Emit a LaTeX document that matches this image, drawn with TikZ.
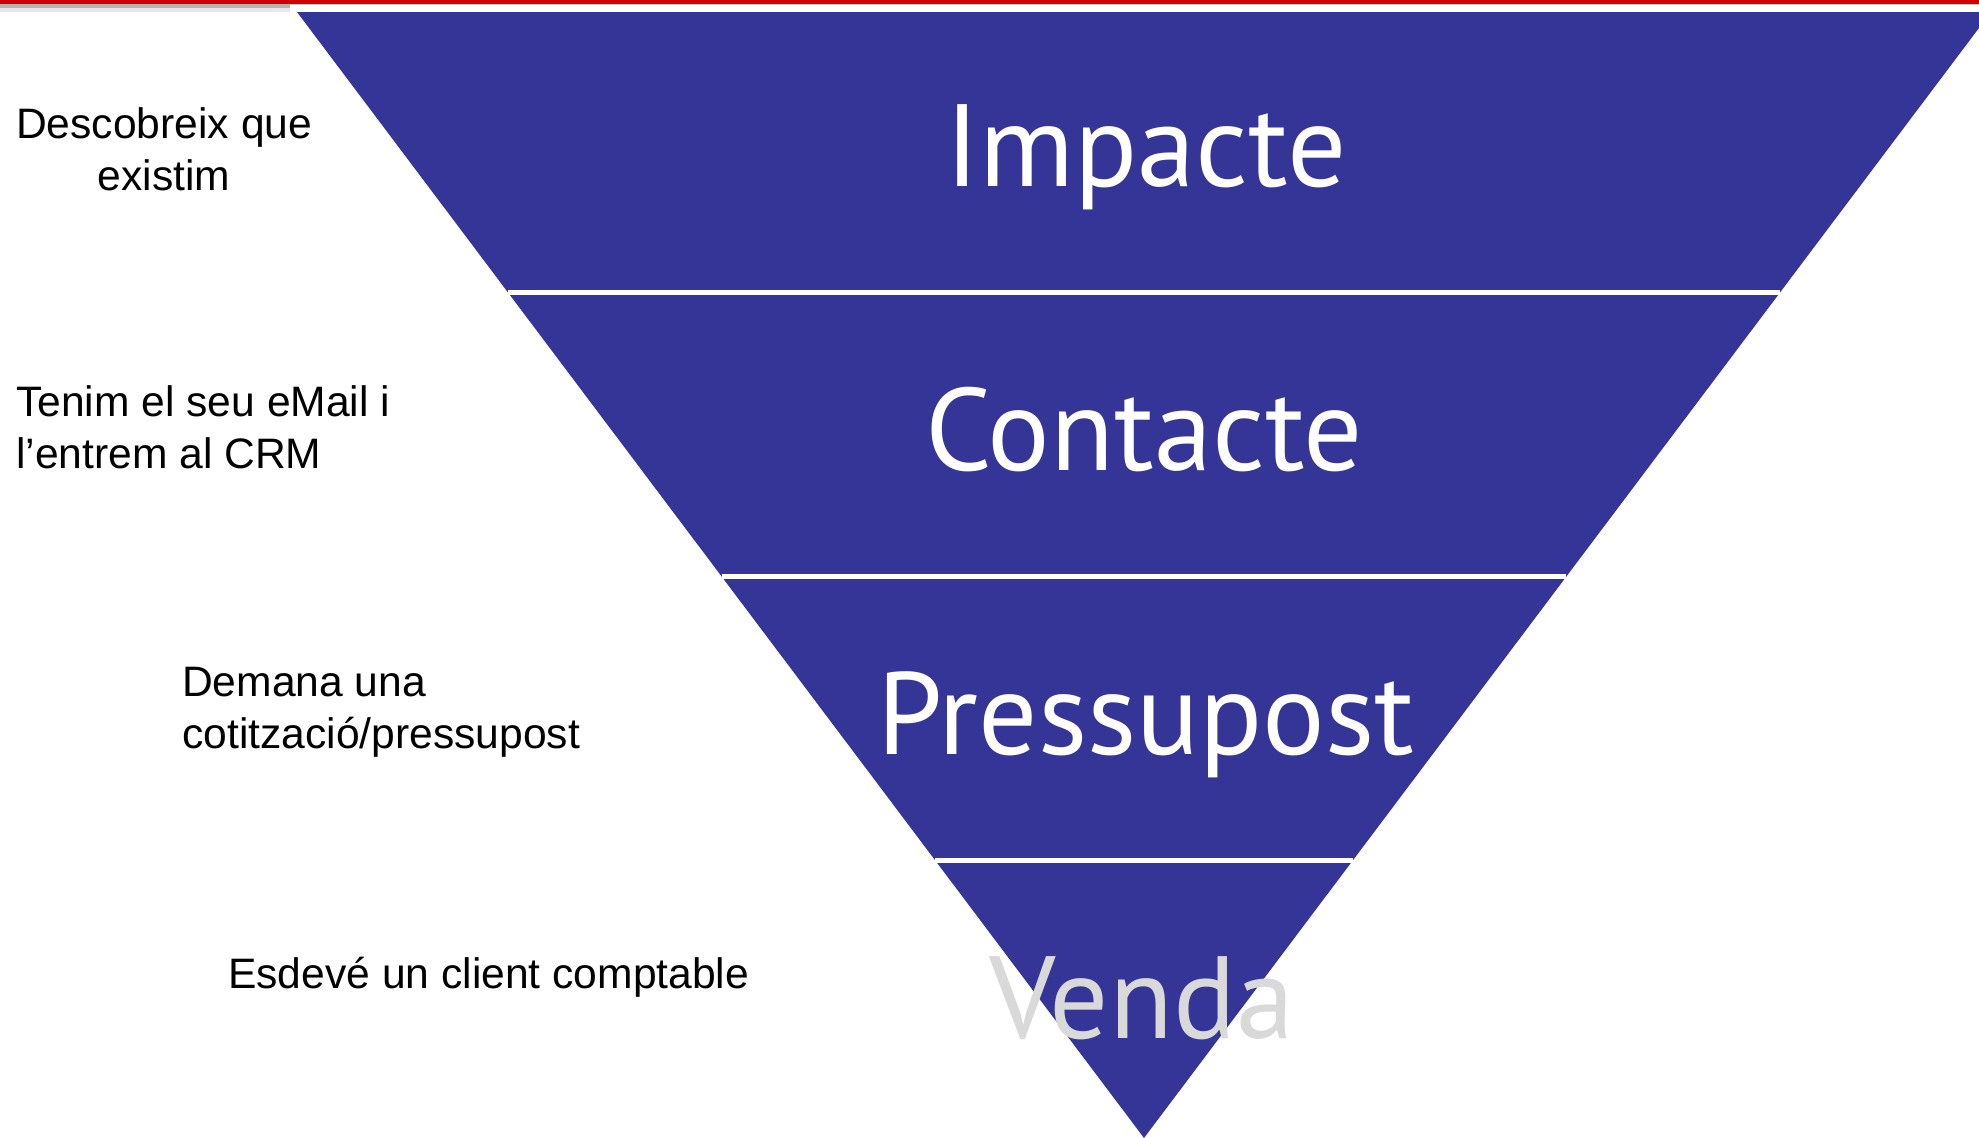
\documentclass[tikz,border=0pt]{standalone}
\usepackage{fontspec}
\setmainfont{Liberation Sans}
\newfontfamily\bigfont{PT Sans}
\definecolor{funnelblue}{HTML}{353598}
\definecolor{topred}{HTML}{D00000}
\definecolor{topgray}{HTML}{B4B4B4}
\definecolor{toplight}{HTML}{E8E8E8}
\definecolor{toprule}{HTML}{C8C8C8}
\definecolor{vendagray}{HTML}{D9D9D9}
\tikzset{
  stage/.style={font=\bigfont\fontsize{117}{117}\selectfont, text=white, inner sep=0pt, anchor=base},
  note/.style={font=\fontsize{42.6}{52}\selectfont, text=black, inner sep=0pt, anchor=base west},
  gap/.style={draw=white, line width=5pt},
}
\begin{document}
\begin{tikzpicture}[x=1pt,y=-1pt]
\useasboundingbox (0,0) rectangle (1979,1138);
\clip (0,0) rectangle (1979,1138);
% top strip
\fill[topred] (0,0) rectangle (1979,3.5);
\fill[topgray] (0,3.5) rectangle (290,7.5);
\fill[toplight] (0,7.5) rectangle (290,11.7);
\fill[toprule] (290,3.5) rectangle (1979,5);
% funnel
\coordinate (tl) at (297,12);
\coordinate (tr) at (1991,12);
\coordinate (apex) at (1144,1138);
\fill[funnelblue] (tl) -- (tr) -- (apex) -- cycle;
\coordinate (g1l) at (508,292.5);   \coordinate (g1r) at (1780,292.5);
\coordinate (g2l) at (721.6,576.5); \coordinate (g2r) at (1566.4,576.5);
\coordinate (g3l) at (935.2,860.5); \coordinate (g3r) at (1352.8,860.5);
\draw[gap] (g1l) -- (g1r);
\draw[gap] (g2l) -- (g2r);
\draw[gap] (g3l) -- (g3r);
% stage words
\node[stage] (impacte) at (1146,186) {Impacte};
\node[stage] (contacte) at (1144,470) {Contacte};
\node[stage] (pressupost) at (1146,754) {Pressupost};
\node[stage, text=vendagray] (venda) at (1142,1038) {Venda};
% notes (base anchor = last line)
\node[note, align=center] (n1) at (16,190) {Descobreix que\\existim};
\node[note, align=left] (n2) at (16,468) {Tenim el seu eMail i\\l’entrem al CRM};
\node[note, align=left] (n3) at (182,748) {Demana una\\cotització/pressupost};
\node[note] (n4) at (228,988) {Esdevé un client comptable};
\end{tikzpicture}
\end{document}
